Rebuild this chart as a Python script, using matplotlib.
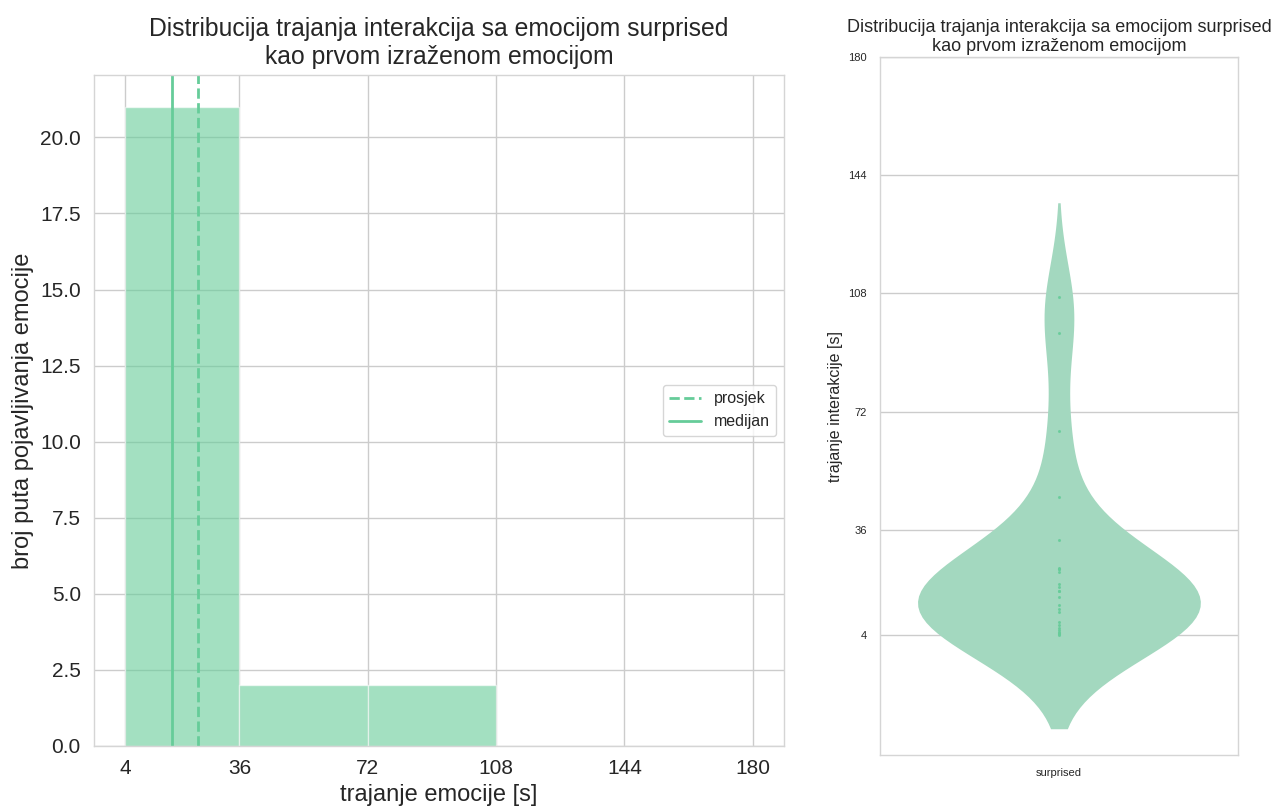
import numpy as np
import matplotlib

matplotlib.use("Agg")
import matplotlib.pyplot as plt
import seaborn as sns

# trajanja interakcija (s) za emociju surprised
trajanja = [107, 96, 66, 46, 33,
            24.5, 24, 24, 23, 19.5, 18.5, 17.5, 17.2, 15.5,
            13, 12, 11, 8, 7, 6, 5.5, 5, 4.5, 4.2, 4]
emocija = "surprised"
bins = [4, 36, 72, 108, 144, 180]
y_ticks_violin = [4, 36, 72, 108, 144, 180]

boja = "#66cc99"
boja_violin = "#a3d8bf"

sns.set_theme(style="whitegrid", rc={"axes.edgecolor": "#d5d5d5", "axes.linewidth": 1.0})
plt.rcParams["font.family"] = ["Arial", "Liberation Sans", "DejaVu Sans"]

fig = plt.figure(figsize=(12.74, 8.07), dpi=100)
ax1 = fig.add_axes([0.0738, 0.0756, 0.5416, 0.8315])
ax2 = fig.add_axes([0.6907, 0.0644, 0.2810, 0.8650])

# histogram
ax1.hist(trajanja, bins=bins, color=boja, alpha=0.6, edgecolor="white", linewidth=1)
ax1.axvline(np.mean(trajanja), color=boja, linestyle="--", linewidth=2, label="prosjek")
ax1.axvline(np.median(trajanja), color=boja, linestyle="-", linewidth=2, label="medijan")
ax1.set_xticks(bins)
ax1.tick_params(labelsize=15)
ax1.set_xlabel("trajanje emocije [s]", fontsize=17)
ax1.set_ylabel("broj puta pojavljivanja emocije", fontsize=17)
ax1.set_title("Distribucija trajanja interakcija sa emocijom surprised\nkao prvom izraženom emocijom",
              fontsize=17.8, pad=8)
ax1.legend(loc="center right", fontsize=11.5)

# violin
sns.violinplot(y=trajanja, ax=ax2, color=boja_violin, saturation=1, inner=None,
               linewidth=0, width=0.79)
ax2.scatter(np.zeros(len(trajanja)), trajanja, s=1.5, color=boja, alpha=0.8, zorder=3)
ax2.set_xlim(-0.5, 0.5)
ax2.set_xticks([0])
ax2.set_xticklabels([emocija])
ax2.set_ylim(top=180)
ax2.set_yticks(y_ticks_violin)
ax2.tick_params(labelsize=8)
ax2.set_ylabel("trajanje interakcije [s]", fontsize=11.5)
ax2.set_title("Distribucija trajanja interakcija sa emocijom surprised\nkao prvom izraženom emocijom",
              fontsize=13, pad=4)

fig.savefig("out.png", dpi=100)
